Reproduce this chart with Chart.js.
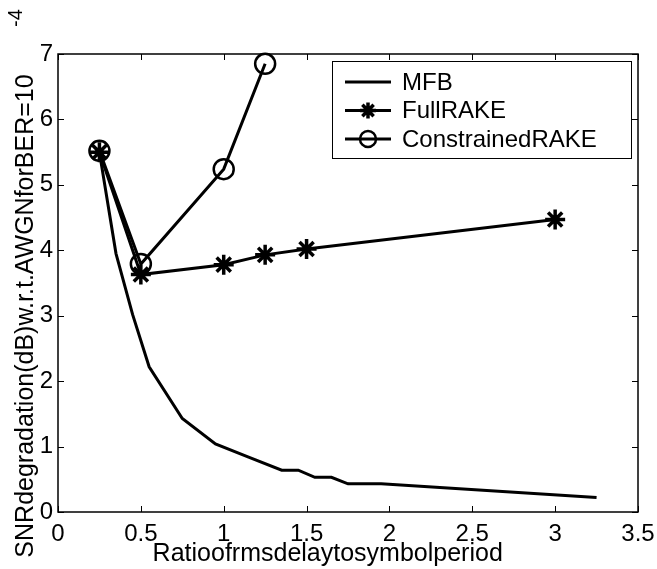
<!DOCTYPE html>
<html>
<head>
<meta charset="utf-8">
<script src="https://cdn.jsdelivr.net/npm/chart.js@4/dist/chart.umd.min.js"></script>
<style>
html,body{margin:0;padding:0;background:#fff;}
#wrap{width:657px;height:569px;position:relative;}
canvas{display:block;}
</style>
</head>
<body>
<div id="wrap"><canvas id="c" width="657" height="569"></canvas></div>
<script>
// ---- data ----
const seriesNames = ['MFB', 'FullRAKE', 'ConstrainedRAKE'];
const mfbX = [0.25, 0.35, 0.45, 0.55, 0.75, 0.95, 1.15, 1.35, 1.45, 1.55, 1.65, 1.75, 1.95, 3.25];
const mfbY = [5.5, 3.95, 3.02, 2.22, 1.43, 1.04, 0.84, 0.64, 0.64, 0.53, 0.53, 0.43, 0.43, 0.22];
const fullX = [0.25, 0.5, 1.0, 1.25, 1.5, 3.0];
const fullY = [5.5, 3.63, 3.78, 3.93, 4.02, 4.47];
const conX = [0.25, 0.5, 1.0, 1.25];
const conY = [5.52, 3.79, 5.24, 6.85];
const xTicks = [0, 0.5, 1, 1.5, 2, 2.5, 3, 3.5];
const yTicks = [0, 1, 2, 3, 4, 5, 6, 7];
const xTitle = 'Ratioofrmsdelaytosymbolperiod';
const yTitle = 'SNRdegradation(dB)w.r.t.AWGNforBER=10';
const yTitleExp = '-4';

const FONT = "'Liberation Sans', Arial, Helvetica, sans-serif";
const pts = (xs, ys) => xs.map((x, i) => ({x: x, y: ys[i]}));

const framePlugin = {
  id: 'frame',
  afterDraw(chart) {
    const ctx = chart.ctx;
    const a = chart.chartArea;
    const xs = chart.scales.x, ys = chart.scales.y;
    ctx.save();
    ctx.strokeStyle = '#000';
    ctx.lineWidth = 1.5;
    ctx.strokeRect(a.left, a.top, a.right - a.left, a.bottom - a.top);
    // inward ticks on all sides
    ctx.lineWidth = 1;
    const tl = 6;
    ctx.beginPath();
    xTicks.forEach(v => {
      const p = Math.round(xs.getPixelForValue(v)) + 0.5;
      ctx.moveTo(p, a.bottom); ctx.lineTo(p, a.bottom - tl);
      ctx.moveTo(p, a.top); ctx.lineTo(p, a.top + tl);
    });
    yTicks.forEach(v => {
      const p = Math.round(ys.getPixelForValue(v)) + 0.5;
      ctx.moveTo(a.left, p); ctx.lineTo(a.left + tl, p);
      ctx.moveTo(a.right, p); ctx.lineTo(a.right - tl, p);
    });
    ctx.stroke();

    // axis titles
    ctx.fillStyle = '#000';
    ctx.font = '25px ' + FONT;
    ctx.textAlign = 'center';
    ctx.textBaseline = 'alphabetic';
    ctx.fillText(xTitle, a.left + (a.right - a.left) * 0.465, 561);
    ctx.save();
    ctx.translate(33, (a.top + a.bottom) / 2 + 33);
    ctx.rotate(-Math.PI / 2);
    ctx.fillText(yTitle, 0, 0);
    ctx.restore();
    ctx.save();
    ctx.font = '20px ' + FONT;
    ctx.translate(22, 18);
    ctx.rotate(-Math.PI / 2);
    ctx.fillText(yTitleExp, 0, 0);
    ctx.restore();

    // legend
    const lx = 332.5, ly = 61.5, lw = 299, lh = 97;
    ctx.fillStyle = '#fff';
    ctx.fillRect(lx, ly, lw, lh);
    ctx.strokeStyle = '#000';
    ctx.lineWidth = 1;
    ctx.strokeRect(lx, ly, lw, lh);
    const rows = [82, 110.5, 139];
    chart.data.datasets.forEach((ds, i) => {
      const y = rows[i];
      ctx.strokeStyle = '#000';
      ctx.lineWidth = 3;
      ctx.beginPath();
      ctx.moveTo(345, y); ctx.lineTo(391, y);
      ctx.stroke();
      if (ds.pointRadius > 0) {
        ctx.fillStyle = 'rgba(0,0,0,0)';
        ctx.strokeStyle = '#000';
        ctx.lineWidth = ds.pointBorderWidth;
        Chart.helpers.drawPoint(ctx, {
          pointStyle: ds.pointStyle,
          radius: 8,
          borderWidth: ds.pointBorderWidth,
          rotation: 0
        }, 368, y);
      }
      ctx.fillStyle = '#000';
      ctx.font = '24px ' + FONT;
      ctx.textAlign = 'left';
      ctx.textBaseline = 'middle';
      ctx.fillText(ds.label, 402, y + 1);
    });
    ctx.restore();
  }
};

const lineCommon = {
  showLine: true,
  borderColor: '#000',
  borderWidth: 3,
  pointBorderColor: '#000',
  pointBackgroundColor: 'rgba(0,0,0,0)',
  fill: false,
  tension: 0,
  clip: false
};

new Chart(document.getElementById('c'), {
  type: 'scatter',
  data: {
    datasets: [
      Object.assign({}, lineCommon, {
        label: seriesNames[0], data: pts(mfbX, mfbY), pointRadius: 0, pointStyle: false, pointBorderWidth: 0
      }),
      Object.assign({}, lineCommon, {
        label: seriesNames[1], data: pts(fullX, fullY), pointStyle: 'star', pointRadius: 10, pointBorderWidth: 3.5
      }),
      Object.assign({}, lineCommon, {
        label: seriesNames[2], data: pts(conX, conY), pointStyle: 'circle', pointRadius: 10, pointBorderWidth: 2.5
      })
    ]
  },
  options: {
    responsive: false,
    devicePixelRatio: 1,
    animation: false,
    events: [],
    layout: { padding: { top: 54, right: 19, left: 0, bottom: 0 } },
    plugins: { legend: { display: false }, tooltip: { enabled: false } },
    scales: {
      x: {
        type: 'linear', min: 0, max: 3.5,
        afterBuildTicks: s => { s.ticks = xTicks.map(v => ({ value: v })); },
        grid: { display: false, drawTicks: false },
        border: { display: false },
        ticks: { color: '#000', font: { family: FONT, size: 24 }, padding: 8, maxRotation: 0, autoSkip: false,
                 callback: v => String(v) },
        afterFit: s => { s.height = 57; s.paddingLeft = 0; s.paddingRight = 0; }
      },
      y: {
        type: 'linear', min: 0, max: 7,
        afterBuildTicks: s => { s.ticks = yTicks.map(v => ({ value: v })); },
        grid: { display: false, drawTicks: false },
        border: { display: false },
        ticks: { color: '#000', font: { family: FONT, size: 24 }, padding: 5, autoSkip: false,
                 callback: v => String(v) },
        afterFit: s => { s.width = 58; s.paddingTop = 0; s.paddingBottom = 0; }
      }
    }
  },
  plugins: [framePlugin]
});
</script>
</body>
</html>
